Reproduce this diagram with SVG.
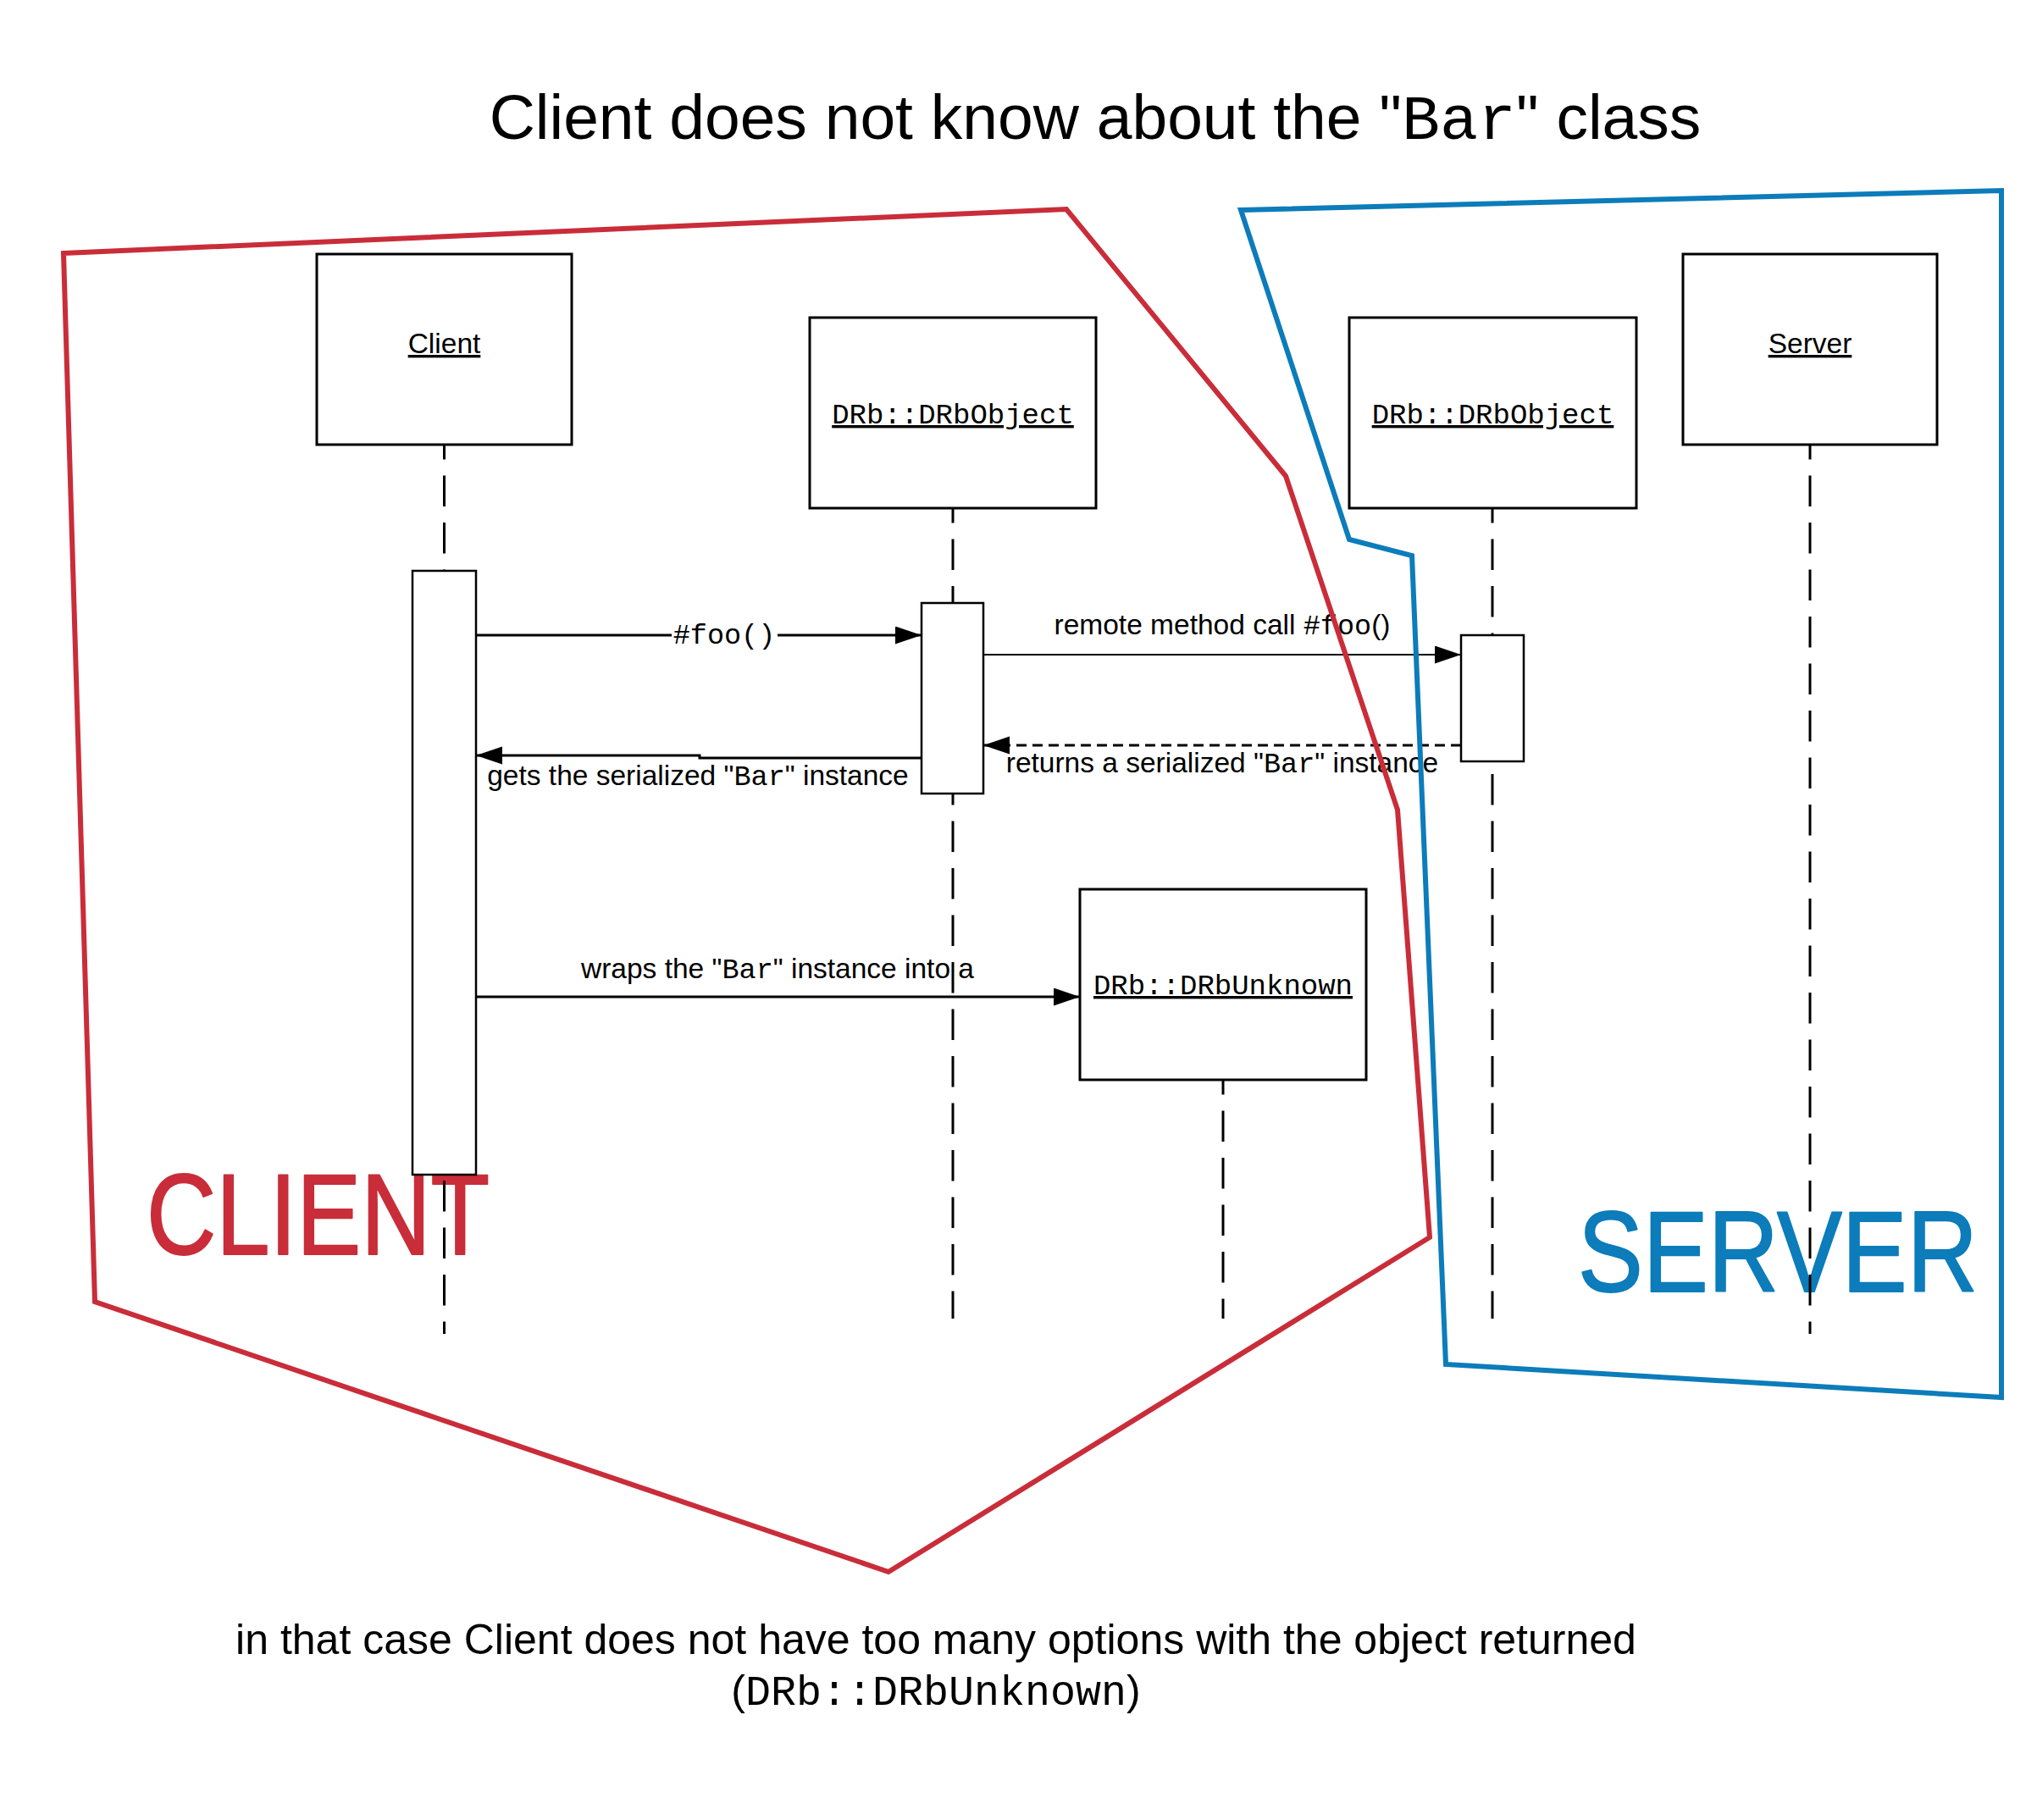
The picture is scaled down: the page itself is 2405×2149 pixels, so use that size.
<svg xmlns="http://www.w3.org/2000/svg" width="2405" height="2149" viewBox="0 0 2405 2149">
<defs>
<style>
.box{fill:#fff;stroke:#000;stroke-width:3}
.act{fill:#fff;stroke:#000;stroke-width:2.5}
.life{stroke:#000;stroke-width:3;fill:none;stroke-dasharray:36.5 19;stroke-dashoffset:19}
.sans{font-family:"Liberation Sans",Arial,sans-serif}
.mono{font-family:"Liberation Mono","Courier New",monospace}
.lbl{font-size:33.5px;fill:#000}
.name{font-size:33.5px;fill:#000;text-decoration:underline}
.mname{font-size:34px;fill:#000;text-decoration:underline}
.msg{stroke:#000;stroke-width:3;fill:none}
.thin{stroke:#000;stroke-width:2;fill:none}
.ret{stroke:#000;stroke-width:3;fill:none;stroke-dasharray:12 7}
.zone{fill:none;stroke-width:6;stroke-linejoin:miter}
.hand{font-family:"Liberation Sans",Arial,sans-serif;font-size:135px;stroke-width:2;stroke-linejoin:round}
</style>
<marker id="ah" markerUnits="userSpaceOnUse" markerWidth="32" markerHeight="22" refX="31" refY="10.5" orient="auto">
<path d="M0,0 L31,10.5 L0,21 z" fill="#000"/>
</marker>
</defs>
<rect x="0" y="0" width="2405" height="2149" fill="#fff"/>

<text class="sans" x="1293" y="164" font-size="75" text-anchor="middle">Client does not know about the "<tspan class="mono">Bar</tspan>" class</text>

<g id="label-client-zone">
<text class="hand" x="173" y="1481" textLength="405" lengthAdjust="spacingAndGlyphs" fill="#C92D39" stroke="#C92D39">CLIENT</text>
</g>
<g id="label-server-zone">
<text class="hand" x="1863" y="1525" textLength="472" lengthAdjust="spacingAndGlyphs" fill="#0C7CBA" stroke="#0C7CBA">SERVER</text>
</g>

<g id="lifelines">
<line class="life" x1="524.5" y1="525" x2="524.5" y2="1575"/>
<line class="life" x1="1125" y1="600" x2="1125" y2="1557"/>
<line class="life" x1="1762" y1="600" x2="1762" y2="1557"/>
<line class="life" x1="2137" y1="525" x2="2137" y2="1575"/>
<line class="life" x1="1444" y1="1275" x2="1444" y2="1557"/>
</g>

<g id="node-client">
<rect class="box" x="374" y="300" width="301" height="225"/>
<text class="sans name" x="524.5" y="417" text-anchor="middle">Client</text>
<rect class="act" x="487" y="674" width="75" height="713"/>
</g>
<g id="node-drbobject-client">
<rect class="box" x="956" y="375" width="338" height="225"/>
<text class="mono mname" x="1125" y="500" text-anchor="middle">DRb::DRbObject</text>
<rect class="act" x="1088" y="712" width="73" height="225"/>
</g>
<g id="node-drbobject-server">
<rect class="box" x="1593" y="375" width="339" height="225"/>
<text class="mono mname" x="1762.5" y="500" text-anchor="middle">DRb::DRbObject</text>
<rect class="act" x="1725" y="750" width="74" height="149"/>
</g>
<g id="node-server">
<rect class="box" x="1987" y="300" width="300" height="225"/>
<text class="sans name" x="2137" y="417" text-anchor="middle">Server</text>
</g>
<g id="node-drbunknown">
<rect class="box" x="1275" y="1050" width="338" height="225"/>
<text class="mono mname" x="1444" y="1174" text-anchor="middle">DRb::DRbUnknown</text>
</g>

<g id="connectors">
<line class="msg" x1="562" y1="750" x2="1088" y2="750" marker-end="url(#ah)"/>
<rect x="793" y="734" width="125" height="34" fill="#fff"/>
<text class="mono lbl" x="855" y="760" text-anchor="middle">#foo()</text>

<line class="thin" x1="1161" y1="773" x2="1725" y2="773" marker-end="url(#ah)"/>
<text class="sans lbl" x="1443" y="749" text-anchor="middle">remote method call <tspan class="mono">#foo</tspan>()</text>

<line class="ret" x1="1725" y1="880" x2="1161" y2="880" marker-end="url(#ah)"/>
<text class="sans lbl" x="1443" y="912" text-anchor="middle">returns a serialized "<tspan class="mono">Bar</tspan>" instance</text>

<path class="msg" d="M1088,895 L826,895 L826,892 L562,892" marker-end="url(#ah)"/>
<text class="sans lbl" x="824" y="927" text-anchor="middle">gets the serialized "<tspan class="mono">Bar</tspan>" instance</text>

<line class="msg" x1="562" y1="1177" x2="1275" y2="1177" marker-end="url(#ah)"/>
<text class="sans lbl" x="918" y="1155" text-anchor="middle">wraps the "<tspan class="mono">Bar</tspan>" instance into a</text>
</g>

<g id="zones">
<path class="zone" stroke="#C92D39" d="M75,299 L1259,247 L1518,562 L1650,956 L1688,1461 L1049,1856 L112,1537 Z"/>
<path class="zone" stroke="#0C7CBA" d="M1465,248 L2363,225 L2363,1650 L1707,1611 L1667,656 L1593,637 Z"/>
</g>

<text class="sans" x="1105" y="1953" font-size="50" text-anchor="middle">in that case Client does not have too many options with the object returned</text>
<text class="sans" x="1105" y="2013" font-size="50" text-anchor="middle">(<tspan class="mono">DRb::DRbUnknown</tspan>)</text>
</svg>
